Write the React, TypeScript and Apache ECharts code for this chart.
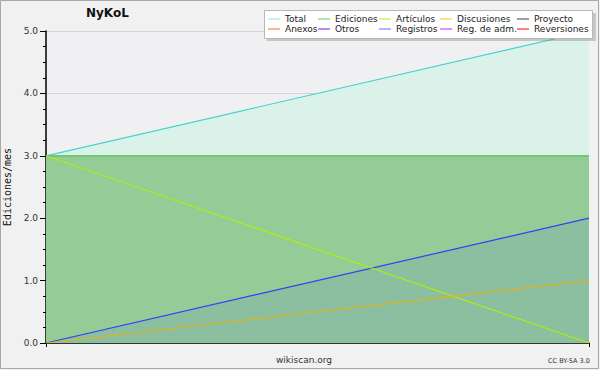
import React, { useEffect, useRef } from "react";
import * as echarts from "echarts";

const categories = ["inicio", "fin"];
const seriesNames = [
  "Total", "Ediciones", "Artículos", "Discusiones", "Proyecto",
  "Anexos", "Otros", "Registros", "Reg. de adm.", "Reversiones",
];
const totalValues = [3, 5];
const edicionesValues = [3, 3];
const articulosValues = [3, 0];
const discusionesValues = [0, 1];
const registrosValues = [0, 2];
const emptyValues: number[] = [];
const yTicks = [0, 1, 2, 3, 4, 5];

const lineColors: Record<string, string> = {
  Total: "#44d4d0",
  Ediciones: "#52c052",
  "Artículos": "#b0ec10",
  Discusiones: "#e0b420",
  Proyecto: "#505050",
  Anexos: "#ff7a30",
  Otros: "#8a30e0",
  Registros: "#3040f8",
  "Reg. de adm.": "#e040f0",
  Reversiones: "#ff3030",
};
const legendColors: Record<string, string> = {
  Total: "#a4ece8",
  Ediciones: "#80d080",
  "Artículos": "#c8f040",
  Discusiones: "#f8d030",
  Proyecto: "#606060",
  Anexos: "#ff8040",
  Otros: "#9040e0",
  Registros: "#8080ff",
  "Reg. de adm.": "#e040f0",
  Reversiones: "#ff3030",
};

export default function App() {
  const ref = useRef<HTMLDivElement>(null);
  useEffect(() => {
    if (!ref.current) return;
    const chart = echarts.init(ref.current, null, { renderer: "svg" });
    const dataFor: Record<string, number[]> = {
      Total: totalValues,
      Ediciones: edicionesValues,
      "Artículos": articulosValues,
      Discusiones: discusionesValues,
      Registros: registrosValues,
    };
    const areaFor: Record<string, any> = {
      Total: { color: "#dbf2eb", opacity: 1 },
      Ediciones: { color: "#94cb97", opacity: 1 },
      Registros: { color: "rgba(40,50,255,0.08)", opacity: 1 },
    };
    const zFor: Record<string, number> = { Total: 1, Ediciones: 2, Registros: 3 };
    const series = seriesNames.map((name) => ({
      name,
      type: "line",
      data: dataFor[name] || emptyValues,
      symbol: "none",
      showSymbol: false,
      z: zFor[name] || 4,
      lineStyle: { color: lineColors[name], width: 1.2 },
      itemStyle: { color: lineColors[name] },
      areaStyle: areaFor[name],
    }));
    const colX = [268, 318, 379, 440, 517];
    const legends = colX.map((x, i) => ({
      orient: "vertical",
      left: x,
      top: 14,
      z: 30,
      padding: 0,
      itemGap: 0,
      itemWidth: 12,
      itemHeight: 1.2,
      icon: "rect",
      data: [seriesNames[i], seriesNames[i + 5]].map((n) => ({
        name: n,
        itemStyle: { color: legendColors[n] },
      })),
      textStyle: {
        fontFamily: "DejaVu Sans",
        fontSize: 9,
        lineHeight: 10,
        color: "#222",
        padding: [0, 0, 0, 0],
      },
      selectedMode: false,
    }));
    chart.setOption({
      animation: false,
      backgroundColor: "#f1f1f1",
      textStyle: { fontFamily: "DejaVu Sans" },
      grid: {
        left: 46,
        right: 11,
        top: 31,
        bottom: 27,
        show: true,
        backgroundColor: "#f0f0f2",
        borderWidth: 0,
        containLabel: false,
        outerBoundsMode: "none",
      },
      legend: legends,
      graphic: [
        { type: "rect", shape: { x: 0.5, y: 0.5, width: 598, height: 368 }, style: { fill: "none", stroke: "#a8a8a8", lineWidth: 1 }, z: 0 },
        { type: "rect", shape: { x: 267, y: 13, width: 329, height: 28 }, style: { fill: "rgba(120,120,120,0.35)" }, z: 10 },
        { type: "rect", shape: { x: 264.5, y: 10.5, width: 328, height: 28 }, style: { fill: "#ffffff", stroke: "#b8b8b8", lineWidth: 1 }, z: 11 },
        { type: "text", left: 86, top: 7, style: { text: "NyKoL", font: "bold 12px DejaVu Sans", fill: "#111" }, z: 12 },
        { type: "text", left: 276, top: 355, style: { text: "wikiscan.org", font: "9px DejaVu Sans", fill: "#333" }, z: 12 },
        { type: "text", left: 548, top: 357, style: { text: "CC BY-SA 3.0", font: "6.5px DejaVu Sans", fill: "#333" }, z: 12 },
      ],
      xAxis: {
        type: "category",
        data: categories,
        boundaryGap: false,
        axisLine: { lineStyle: { color: "#000", width: 1.5 } },
        axisTick: { show: true, length: 4, lineStyle: { color: "#000" }, interval: 0 },
        axisLabel: { show: false },
        splitLine: { show: false },
      },
      yAxis: {
        type: "value",
        min: yTicks[0],
        max: yTicks[yTicks.length - 1],
        interval: 1,
        name: "Ediciones/mes",
        nameLocation: "middle",
        nameGap: 33,
        nameRotate: 90,
        nameTextStyle: { fontFamily: "DejaVu Sans Mono", fontSize: 10, color: "#111" },
        axisLine: { show: true, lineStyle: { color: "#000", width: 1.5 } },
        axisTick: { show: true, length: 6, lineStyle: { color: "#000" } },
        minorTick: { show: true, splitNumber: 4, length: 3, lineStyle: { color: "#000" } },
        axisLabel: {
          formatter: (v: number) => v.toFixed(1),
          fontSize: 9,
          color: "#333",
          margin: 8,
          fontFamily: "DejaVu Sans",
        },
        splitLine: { show: true, lineStyle: { color: "#d4d4d4", width: 1 } },
      },
      series,
    });
    return () => chart.dispose();
  }, []);
  return (
    <div
      ref={ref}
      style={{ position: "fixed", left: 0, top: 0, width: 600, height: 370 }}
    />
  );
}
